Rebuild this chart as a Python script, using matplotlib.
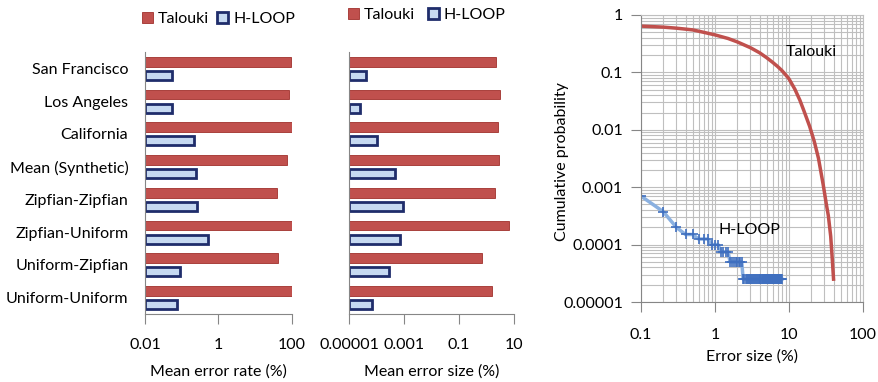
import numpy as np
import matplotlib
matplotlib.use("Agg")
from matplotlib import pyplot as plt
from matplotlib.patches import Patch

plt.rcParams['font.family'] = ['Lato', 'DejaVu Sans']
plt.rcParams['font.size'] = 11.5

categories = ['San Francisco', 'Los Angeles', 'California', 'Mean (Synthetic)',
              'Zipfian-Zipfian', 'Zipfian-Uniform', 'Uniform-Zipfian', 'Uniform-Uniform']

# mean error rate (%)
rate_talouki = [95, 83, 100, 73, 39, 100, 41, 100]
rate_hloop = [0.054, 0.054, 0.215, 0.245, 0.26, 0.52, 0.09, 0.074]

# mean error size (%)
size_talouki = [2.2, 3.1, 2.6, 2.8, 2.0, 6.6, 0.69, 1.58]
size_hloop = [4.2e-5, 2.5e-5, 1.05e-4, 4.7e-4, 9.2e-4, 7.1e-4, 2.8e-4, 6.9e-5]

# cumulative probability vs error size (%)
talouki_x = [0.1, 0.2, 0.3, 0.5, 0.7, 1, 1.5, 2, 3, 4, 5, 6, 7, 8, 9, 10, 12, 14,
             16, 19, 22, 25, 29, 32, 34, 36.6, 38.5, 40]
talouki_y = [0.64, 0.615, 0.59, 0.55, 0.5, 0.45, 0.39, 0.34, 0.27, 0.22, 0.18, 0.15,
             0.127, 0.108, 0.091, 0.077, 0.051, 0.033, 0.021, 0.0115, 0.0062, 0.0032,
             0.0011, 0.0005, 0.00032, 0.00014, 5.4e-5, 2.5e-5]

hloop_x = [0.1, 0.2, 0.3, 0.4, 0.5, 0.6, 0.7, 0.8, 0.9, 1.0,
           1.1, 1.2, 1.3, 1.4, 1.5, 1.6, 1.7, 1.8, 1.9, 2.0,
           2.1, 2.2, 2.3, 2.4, 2.5, 2.6, 2.7, 2.8, 2.9, 3.0,
           3.1, 3.2, 3.3, 3.4, 3.5, 3.6, 3.7, 3.8, 3.9, 4.0,
           4.1, 4.2, 4.3, 4.4, 4.5, 4.6, 4.7, 4.8, 4.9, 5.0,
           5.1, 5.2, 5.3, 5.4, 5.5, 5.6, 5.7, 5.8, 5.9, 6.0,
           6.1, 6.2, 6.3, 6.4, 6.5, 6.6, 6.7, 6.8, 6.9, 7.0,
           7.1, 7.2, 7.3, 7.4, 7.5, 7.6, 7.7, 7.8, 7.9, 8.0]
hloop_y = ([7e-4, 3.75e-4, 2e-4, 1.5e-4, 1.5e-4, 1.25e-4, 1.25e-4, 1.25e-4,
            1e-4, 1e-4, 1e-4] + [7.5e-5] * 4 + [5e-5] * 8 + [2.5e-5] * 57)

red = '#C0504D'
red_edge = '#A0302C'
lblue = '#C6D9F1'
navy = '#1F2D6B'
axis_gray = '#868686'

fig = plt.figure(figsize=(8.79, 3.82), dpi=100)

ax1 = fig.add_axes([145 / 879, 68 / 382, 147 / 879, 262 / 382])
ax2 = fig.add_axes([349 / 879, 68 / 382, 165 / 879, 262 / 382])
ax3 = fig.add_axes([641 / 879, 80 / 382, 222 / 879, 287 / 382])

ypos = np.arange(len(categories))


def bar_panel(ax, tal, hl, xmin, xmax, ticks, ticklabels, xlabel):
    ax.barh(ypos - 0.2, np.array(tal) - xmin, height=0.3, left=xmin,
            color=red, edgecolor=red_edge, linewidth=0.6)
    ax.barh(ypos + 0.215, np.array(hl) - xmin, height=0.27, left=xmin,
            color=lblue, edgecolor=navy, linewidth=2)
    ax.set_xscale('log')
    ax.set_xlim(xmin, xmax)
    ax.set_ylim(len(categories) - 0.5, -0.5)
    ax.set_xticks(ticks)
    ax.set_xticklabels(ticklabels)
    ax.xaxis.set_minor_locator(matplotlib.ticker.NullLocator())
    ax.tick_params(axis='x', length=7, color=axis_gray, pad=10)
    ax.tick_params(axis='y', length=0, pad=12)
    for s in ['top', 'right']:
        ax.spines[s].set_visible(False)
    for s in ['left', 'bottom']:
        ax.spines[s].set_color(axis_gray)
    ax.set_xlabel(xlabel, labelpad=9)


bar_panel(ax1, rate_talouki, rate_hloop, 0.01, 100, [0.01, 1, 100],
          ['0.01', '1', '100'], 'Mean error rate (%)')
ax1.set_yticks(ypos)
ax1.set_yticklabels(categories)

bar_panel(ax2, size_talouki, size_hloop, 1e-5, 10, [1e-5, 1e-3, 0.1, 10],
          ['0.00001', '0.001', '0.1', '10'], 'Mean error size (%)')
ax2.set_yticks([])

handles = [Patch(facecolor=red, edgecolor=red_edge, linewidth=0.6, label='Talouki'),
           Patch(facecolor=lblue, edgecolor=navy, linewidth=2, label='H-LOOP')]
fig.legend(handles=handles, loc='center left', bbox_to_anchor=(142 / 879, 1 - 19 / 382),
           ncol=2, frameon=False, handlelength=0.7, handleheight=0.7,
           handletextpad=0.3, columnspacing=0.5, borderpad=0, borderaxespad=0)
fig.legend(handles=handles, loc='center left', bbox_to_anchor=(348 / 879, 1 - 15 / 382),
           ncol=2, frameon=False, handlelength=0.7, handleheight=0.7,
           handletextpad=0.3, columnspacing=0.8, borderpad=0, borderaxespad=0)

# right panel
ax3.plot(talouki_x, talouki_y, color=red, linewidth=2.5)
ax3.plot(hloop_x, hloop_y, color='#8AB0E0', linewidth=2.5, marker='+',
         markersize=7, markeredgecolor='#3F6FBF', markeredgewidth=1.2)
ax3.set_xscale('log')
ax3.set_yscale('log')
ax3.set_xlim(0.1, 100)
ax3.set_ylim(1e-5, 1)
ax3.set_xticks([0.1, 1, 10, 100])
ax3.set_xticklabels(['0.1', '1', '10', '100'])
ax3.set_yticks([1e-5, 1e-4, 1e-3, 1e-2, 0.1, 1])
ax3.set_yticklabels(['0.00001', '0.0001', '0.001', '0.01', '0.1', '1'])
ax3.grid(True, which='both', color='#BFBFBF', linewidth=0.8)
ax3.set_axisbelow(True)
ax3.tick_params(which='major', length=7, color=axis_gray)
ax3.tick_params(axis='x', pad=12)
ax3.tick_params(axis='y', pad=6)
ax3.tick_params(which='minor', length=0)
for s in ['top', 'right']:
    ax3.spines[s].set_color('#BFBFBF')
for s in ['left', 'bottom']:
    ax3.spines[s].set_color(axis_gray)
ax3.set_xlabel('Error size (%)', labelpad=5)
ax3.set_ylabel('Cumulative probability', va='center')
ax3.yaxis.set_label_coords(-0.356, 0.49)
ax3.text(20, 0.23, 'Talouki', ha='center', va='center')
ax3.text(2.9, 1.8e-4, 'H-LOOP', ha='center', va='center')

fig.savefig('out.png', dpi=100)
